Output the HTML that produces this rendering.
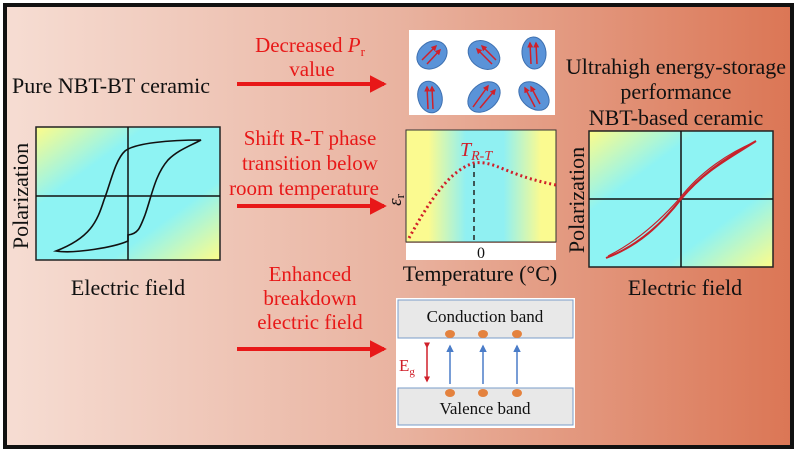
<!DOCTYPE html><html><head><style>body{margin:0;width:799px;height:454px;overflow:hidden;background:#fff}</style></head><body>
<svg width="799" height="454" viewBox="0 0 799 454" font-family="Liberation Serif, serif">
<defs>
<linearGradient id="bg" x1="0" x2="1"><stop offset="0" stop-color="#f6ddd3"/><stop offset="0.5" stop-color="#e9b3a0"/><stop offset="1" stop-color="#db7655"/></linearGradient>
<linearGradient id="pe" x1="0" y1="0" x2="1" y2="1"><stop offset="0" stop-color="#fdfc8a"/><stop offset="0.3" stop-color="#8ef3f3"/><stop offset="0.7" stop-color="#8ef3f3"/><stop offset="1" stop-color="#fdfc8a"/></linearGradient>
<linearGradient id="tg" x1="0" x2="1"><stop offset="0" stop-color="#fbfa90"/><stop offset="0.15" stop-color="#fbfa90"/><stop offset="0.4" stop-color="#90f0f2"/><stop offset="0.65" stop-color="#90f0f2"/><stop offset="0.9" stop-color="#fbfa90"/><stop offset="1" stop-color="#fbfa90"/></linearGradient>
<marker id="ah" markerWidth="5" markerHeight="5" refX="3.5" refY="2.5" orient="auto"><path d="M0,0.3L4.2,2.5L0,4.7z" fill="#e81818"/></marker>
<marker id="ar" markerWidth="4" markerHeight="4" refX="3" refY="2" orient="auto"><path d="M0,0L4,2L0,4z" fill="#d0202a"/></marker>
<marker id="ab" markerWidth="5" markerHeight="5" refX="4" refY="2.5" orient="auto"><path d="M0,0L5,2.5L0,5z" fill="#4a7cc8"/></marker>
</defs>
<rect x="0" y="0" width="799" height="454" fill="#fff"/>
<rect x="5" y="5" width="787" height="442" fill="url(#bg)" stroke="#111" stroke-width="4"/>
<g font-size="22" fill="#111">
<text x="12" y="93">Pure NBT-BT ceramic</text>
<text x="128" y="295" text-anchor="middle">Electric field</text>
<text x="685" y="295" text-anchor="middle">Electric field</text>
<text x="676" y="74" text-anchor="middle">Ultrahigh energy-storage</text>
<text x="676" y="99" text-anchor="middle">performance</text>
<text x="676" y="125" text-anchor="middle">NBT-based ceramic</text>
<text x="480" y="281" text-anchor="middle">Temperature (°C)</text>
<text transform="translate(28,196) rotate(-90)" text-anchor="middle">Polarization</text>
<text transform="translate(584,200) rotate(-90)" text-anchor="middle">Polarization</text>
</g>
<g font-size="21" fill="#e81818" text-anchor="middle">
<text x="310" y="52">Decreased <tspan font-style="italic">P</tspan><tspan font-size="13" dy="4">r</tspan></text>
<text x="312" y="76">value</text>
<text x="310" y="145">Shift R-T phase</text>
<text x="310" y="170">transition below</text>
<text x="304" y="195">room temperature</text>
<text x="310" y="281">Enhanced</text>
<text x="310" y="305">breakdown</text>
<text x="310" y="329">electric field</text>
</g>
<g stroke="#e81818" stroke-width="4" marker-end="url(#ah)">
<line x1="237" y1="84" x2="384" y2="84"/><line x1="237" y1="206" x2="384" y2="206"/><line x1="237" y1="349" x2="384" y2="349"/>
</g>
<!-- left PE -->
<rect x="36" y="127" width="184" height="133" fill="url(#pe)" stroke="#222" stroke-width="1.5"/>
<line x1="128" y1="127" x2="128" y2="260" stroke="#111" stroke-width="1.5"/><line x1="36" y1="196" x2="220" y2="196" stroke="#111" stroke-width="1.5"/>
<path d="M201,140 C170,140 135,143 125,151 C115,160 110,185 104,200 C97,222 90,238 56,251 C75,254 115,247 128,241 L128,235 C138,234 140,228 145,215 C152,195 155,175 168,160 C178,150 190,146 201,140 Z" fill="none" stroke="#111" stroke-width="1.6"/>
<!-- dipoles -->
<rect x="409" y="30" width="146" height="85" fill="#fff"/>
<g fill="#5a93d8" stroke="#3e70b0" stroke-width="1">
<ellipse cx="432" cy="55" rx="16" ry="13" transform="rotate(-35 432 55)"/><ellipse cx="484" cy="55" rx="17" ry="13" transform="rotate(35 484 55)"/><ellipse cx="534" cy="53" rx="12" ry="16" transform="rotate(-5 534 53)"/>
<ellipse cx="430" cy="97" rx="12" ry="16" transform="rotate(-15 430 97)"/><ellipse cx="484" cy="97" rx="18" ry="13" transform="rotate(-40 484 97)"/><ellipse cx="534" cy="96" rx="17" ry="12" transform="rotate(40 534 96)"/>
</g>
<g stroke="#d0202a" stroke-width="1.5" marker-end="url(#ar)">
<line x1="422" y1="60" x2="436" y2="46"/><line x1="427" y1="64" x2="440" y2="50"/>
<line x1="492" y1="64" x2="477" y2="49"/><line x1="496" y1="60" x2="482" y2="46"/>
<line x1="531" y1="64" x2="530" y2="43"/><line x1="537" y1="64" x2="536" y2="43"/>
<line x1="428" y1="109" x2="427" y2="87"/><line x1="433" y1="109" x2="432" y2="87"/>
<line x1="473" y1="107" x2="488" y2="86"/><line x1="480" y1="108" x2="495" y2="90"/>
<line x1="535" y1="107" x2="525" y2="88"/><line x1="540" y1="104" x2="531" y2="87"/>
</g>
<!-- permittivity -->
<rect x="406" y="130" width="150" height="112" fill="url(#tg)" stroke="#333" stroke-width="1"/>
<rect x="406" y="243" width="150" height="17" fill="#fff"/>
<text x="481" y="258" font-size="16" text-anchor="middle" fill="#111">0</text>
<line x1="474" y1="163" x2="474" y2="242" stroke="#222" stroke-width="1.5" stroke-dasharray="5,4"/>
<path d="M409,238 C430,200 450,170 474,163 C495,160 505,175 556,185" fill="none" stroke="#d0202a" stroke-width="3" stroke-dasharray="2,3"/>
<text x="460" y="156" font-size="20" font-style="italic" fill="#d0202a">T<tspan font-size="14" dy="4">R-T</tspan></text>
<text transform="translate(401,200) rotate(-90)" font-size="19" font-style="italic" text-anchor="middle" fill="#111">ε<tspan font-size="13" font-style="normal" dy="3">r</tspan></text>
<!-- right PE -->
<rect x="589" y="131" width="184" height="136" fill="url(#pe)" stroke="#222" stroke-width="1.5"/>
<line x1="681" y1="131" x2="681" y2="267" stroke="#111" stroke-width="1.5"/><line x1="589" y1="199" x2="773" y2="199" stroke="#111" stroke-width="1.5"/>
<path d="M606,258 C640,245 660,225 681,199 C700,175 730,155 756,141 C730,158 705,170 681,199 C665,220 640,245 606,258Z" fill="none" stroke="#c8202a" stroke-width="2"/>
<path d="M608,256 C640,240 665,215 680,198 C700,172 730,152 755,142" fill="none" stroke="#c8202a" stroke-width="1.2"/>
<!-- band -->
<rect x="396" y="298" width="179" height="130" fill="#fff"/>
<rect x="398" y="300" width="175" height="38" fill="#e8e8e8" stroke="#7a9cc8" stroke-width="1"/>
<rect x="398" y="388" width="175" height="37" fill="#e8e8e8" stroke="#7a9cc8" stroke-width="1"/>
<text x="485" y="322" font-size="17" text-anchor="middle" fill="#111">Conduction band</text>
<text x="485" y="414" font-size="17" text-anchor="middle" fill="#111">Valence band</text>
<g fill="#e4823e"><ellipse cx="450" cy="334" rx="5" ry="4"/><ellipse cx="483" cy="334" rx="5" ry="4"/><ellipse cx="517" cy="334" rx="5" ry="4"/><ellipse cx="450" cy="393" rx="5" ry="4"/><ellipse cx="483" cy="393" rx="5" ry="4"/><ellipse cx="517" cy="393" rx="5" ry="4"/></g>
<g stroke="#4a7cc8" stroke-width="1.5" marker-end="url(#ab)"><line x1="450" y1="384" x2="450" y2="346"/><line x1="483" y1="384" x2="483" y2="346"/><line x1="517" y1="384" x2="517" y2="346"/></g>
<line x1="427" y1="347" x2="427" y2="381" stroke="#d0202a" stroke-width="1.5" marker-start="url(#ar)" marker-end="url(#ar)"/>
<text x="399" y="371" font-size="17" fill="#d0202a">E<tspan font-size="11" dy="4">g</tspan></text>
</svg>
</body></html>
